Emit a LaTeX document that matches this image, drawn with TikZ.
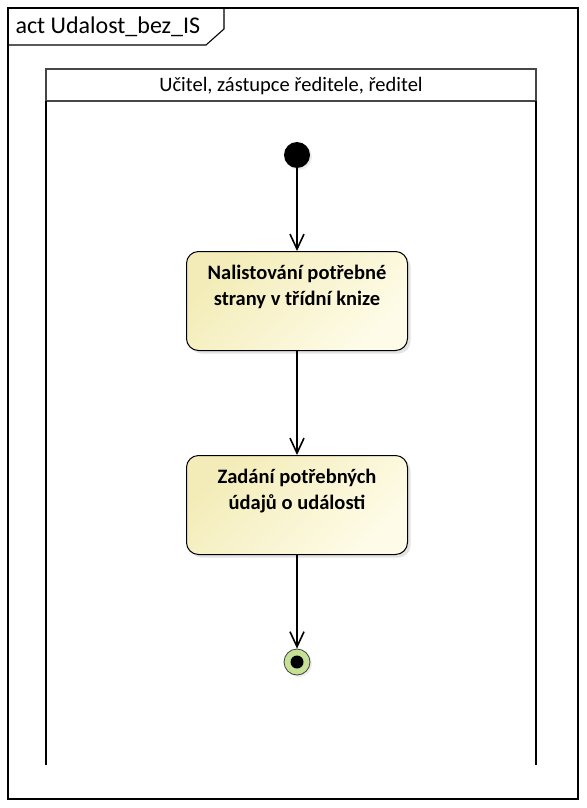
\documentclass[tikz,border=0pt]{standalone}
\usepackage{fontspec}
\setmainfont{Carlito}
\usetikzlibrary{arrows.meta,shadows}

\definecolor{actfillA}{RGB}{243,236,184}
\definecolor{actfillB}{RGB}{254,252,232}
\definecolor{finalfill}{RGB}{198,224,150}
\definecolor{lanegray}{RGB}{70,70,70}

\tikzset{
    action/.style={draw=black, line width=1pt, rounded corners=12pt,
        minimum width=221pt, minimum height=99pt, anchor=north,
        top color=actfillA, bottom color=actfillB, shading angle=45,
        drop shadow={shadow xshift=3pt, shadow yshift=-3pt, fill=black!22}},
    actlabel/.style={anchor=north, yshift=-11pt, align=center,
        font=\bfseries\fontsize{20.5}{25.5}\selectfont},
    initial/.style={circle, fill=black, minimum size=26pt, inner sep=0pt,
        drop shadow={shadow xshift=2pt, shadow yshift=-2pt, fill=black!15}},
    final/.style={circle, draw=black!75, line width=0.8pt, fill=finalfill,
        minimum size=26pt, inner sep=0pt,
        drop shadow={shadow xshift=2pt, shadow yshift=-2pt, fill=black!15},
        path picture={\fill[black] (path picture bounding box.center) circle (6.5pt);}},
    flow/.style={draw, line width=1.6pt,
        -{Straight Barb[length=15pt,width=14pt,line width=1.6pt]}},
}

\begin{document}
\begin{tikzpicture}[x=1pt, y=-1pt]
            \useasboundingbox (0,0) rectangle (586,808);
            % frame
            \draw[line width=1.3pt] (8,8) rectangle (578,799);
            \draw[line width=1.1pt] (8,45) -- (206,45) -- (224,29) -- (224,8);
            \node[anchor=west, font=\fontsize{24}{29}\selectfont] (title) at (12,27) {act Udalost\_bez\_IS};
            % swimlane
            \draw[lanegray, line width=1.2pt] (46,69) rectangle (536,101);
            \draw[line width=1.2pt] (46,101) -- (46,765) (536,101) -- (536,765);
            \node[font=\fontsize{20.5}{25}\selectfont] (lane) at (291,86) {Učitel, zástupce ředitele, ředitel};
            % nodes
            \node[initial] (start) at (297,155) {};
            \node[action, label={[actlabel]north:{Nalistování potřebné\\ strany v třídní knize}}] (act1) at (297,251) {};
            \node[action, label={[actlabel]north:{Zadání potřebných\\ údajů o události}}] (act2) at (297,455) {};
            \node[final] (stop) at (297,662) {};
            % flows
            \draw[flow] (start) -- (act1);
            \draw[flow] (act1) -- (act2);
            \draw[flow] (act2) -- (stop);
        \end{tikzpicture}
\end{document}
